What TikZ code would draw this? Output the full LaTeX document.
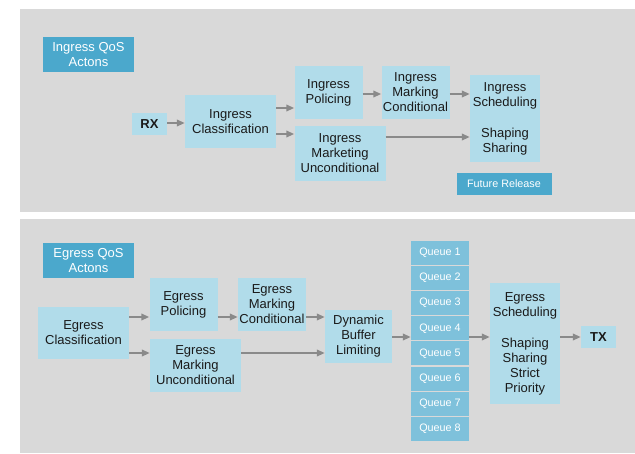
\documentclass[tikz,border=0pt]{standalone}
\usepackage{fontspec}
\setmainfont{Liberation Sans}
\usetikzlibrary{arrows.meta}
\definecolor{panelgray}{HTML}{D9D9D9}
\definecolor{boxblue}{HTML}{B1DCEA}
\definecolor{tagblue}{HTML}{4BA8CC}
\definecolor{queueblue}{HTML}{7EC1DB}
\definecolor{arrowgray}{HTML}{8A8A8A}
\definecolor{inktext}{HTML}{1A1A1A}
\tikzset{
  panel/.style={fill=panelgray, draw=none},
  stage/.style={rectangle, fill=boxblue, draw=none, inner sep=0pt, align=center,
    text=inktext, font=\fontsize{13}{15}\selectfont},
  tag/.style={rectangle, fill=tagblue, draw=none, inner sep=0pt, align=center,
    text=white, font=\fontsize{13}{15}\selectfont},
  queuebox/.style={rectangle, fill=queueblue, draw=none, inner sep=0pt,
    minimum width=58pt, minimum height=24pt, text=white,
    font=\fontsize{10.8}{12}\selectfont},
  port/.style={stage, font=\fontsize{13}{15}\selectfont\bfseries},
  flow/.style={draw=arrowgray, line width=2.4pt,
    -{Triangle[length=8pt,width=6.5pt]}},
  sz/.style 2 args={minimum width=#1pt, minimum height=#2pt}
}
\begin{document}
\begin{tikzpicture}[x=1pt, y=-1pt]
\useasboundingbox (0,0) rectangle (635,453);
\fill[white] (0,0) rectangle (635,453);
% two gray panels
\path[panel] (20,9) rectangle (635,212);
\path[panel] (20,219) rectangle (635,453);

% ---------- ingress ----------
\node[tag, sz={91}{35}] (iqos) at (88.5,54.5) {Ingress QoS\\Actons};
\node[port, sz={35}{22}] (rx) at (149.5,124) {RX};
\node[stage, sz={91}{53}] (icls) at (230.5,121.5) {Ingress\\Classification};
\node[stage, sz={68}{53}] (ipol) at (328.5,92.5) {Ingress\\Policing};
\node[stage, sz={68}{53}] (imc) at (415.5,92.5) {Ingress\\Marking\\Conditional};
\node[stage, sz={70}{87}] (isch) at (505,118.5) {Ingress\\Scheduling\\[16pt]Shaping\\Sharing};
\node[stage, sz={91}{55}] (imu) at (340,153.5) {Ingress\\Marketing\\Unconditional};
\node[tag, sz={95}{22}, font=\fontsize{10.8}{12}\selectfont] (fr) at (504,184) {Future Release};

\draw[flow] (rx.east |- 0,123) -- (icls.west |- 0,123);
\draw[flow] (icls.east |- 0,108) -- (ipol.west |- 0,108);
\draw[flow] (icls.east |- 0,134) -- (imu.west |- 0,134);
\draw[flow] (ipol.east |- 0,94) -- (imc.west |- 0,94);
\draw[flow] (imc.east |- 0,94) -- (isch.west |- 0,94);
\draw[flow] (imu.east |- 0,137) -- (isch.west |- 0,137);

% ---------- egress ----------
\node[tag, sz={91}{35}] (eqos) at (88.5,260.5) {Egress QoS\\Actons};
\node[stage, sz={91}{52}] (ecls) at (83.5,333) {Egress\\Classification};
\node[stage, sz={68}{53}] (epol) at (183.5,304.5) {Egress\\Policing};
\node[stage, sz={68}{53}] (emc) at (272,304.5) {Egress\\Marking\\Conditional};
\node[stage, sz={91}{53}] (emu) at (195.5,365.5) {Egress\\Marking\\Unconditional};
\node[stage, sz={67}{53}] (dbl) at (358.5,336.5) {Dynamic\\Buffer\\Limiting};
\foreach \i in {1,...,8}
  \node[queuebox] (q\i) at (440,{253+(\i-1)*25.1}) {Queue \i};
\node[stage, sz={70}{121}] (esch) at (525,343.5)
  {Egress\\Scheduling\\[16pt]Shaping\\Sharing\\Strict\\Priority};
\node[port, sz={35}{22}] (tx) at (598.5,337) {TX};

\draw[flow] (ecls.east |- 0,317) -- (epol.west |- 0,317);
\draw[flow] (ecls.east |- 0,353) -- (emu.west |- 0,353);
\draw[flow] (epol.east |- 0,317) -- (emc.west |- 0,317);
\draw[flow] (emc.east |- 0,317) -- (dbl.west |- 0,317);
\draw[flow] (emu.east |- 0,353) -- (dbl.west |- 0,353);
\draw[flow] (dbl.east |- 0,337) -- (q4.west |- 0,337);
\draw[flow] (q4.east |- 0,337) -- (esch.west |- 0,337);
\draw[flow] (esch.east |- 0,337) -- (tx.west |- 0,337);
\end{tikzpicture}
\end{document}
